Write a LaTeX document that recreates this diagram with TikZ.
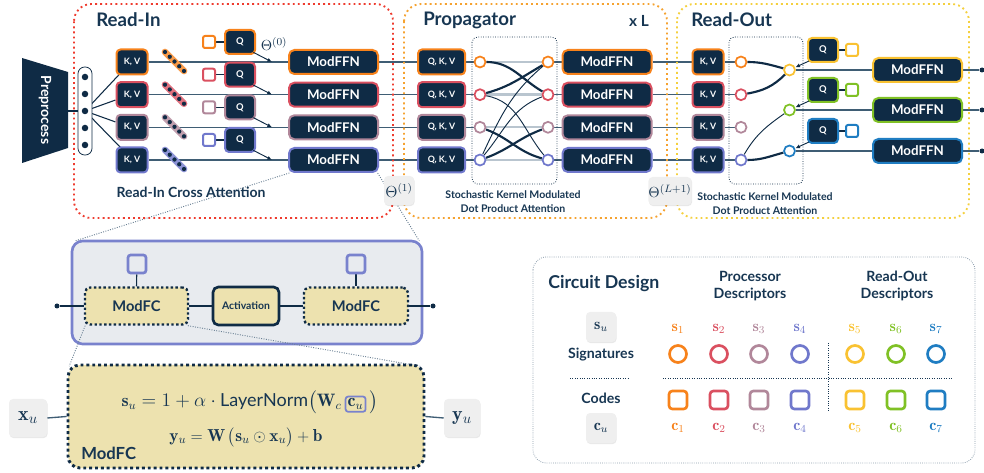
\documentclass[tikz,border=0pt]{standalone}
\usepackage{fontspec}
\usepackage{amsmath}
\usetikzlibrary{arrows.meta,shadows,calc}
\newfontfamily\lato{Lato}
\pgfdeclarelayer{bg}
\pgfsetlayers{bg,main}

\definecolor{navy}{HTML}{0F2B45}
\definecolor{ink}{HTML}{173652}
\definecolor{cOr}{HTML}{F7821B}
\definecolor{cRd}{HTML}{DA5060}
\definecolor{cMv}{HTML}{B1879A}
\definecolor{cPw}{HTML}{7078CC}
\definecolor{cYe}{HTML}{F9C232}
\definecolor{cGr}{HTML}{80C125}
\definecolor{cBl}{HTML}{1F7DC2}
\definecolor{beige}{HTML}{EDE2AF}
\definecolor{panelbg}{HTML}{E8EBEF}
\definecolor{lav}{HTML}{7982CD}
\definecolor{rowline}{HTML}{3F5D74}
\definecolor{faint}{HTML}{B9C5CF}
\definecolor{zoomc}{HTML}{6A8094}
\definecolor{rdot}{HTML}{EE3B2E}
\definecolor{odot}{HTML}{F5A230}
\definecolor{ydot}{HTML}{F4D03E}
\definecolor{chipbg}{HTML}{EFEFEF}
\definecolor{cdline}{HTML}{8A9BAB}

\tikzset{
  sz/.style 2 args={minimum width=#1*0.75pt, minimum height=#2*0.75pt, inner sep=0pt},
  darkbox/.style={draw=#1, fill=navy, line width=1.5pt, rounded corners=3pt, text=white, inner sep=0pt},
  kvbox/.style={darkbox=#1, sz={31}{25}, font=\lato\bfseries\fontsize{6.6}{7}\selectfont},
  qkvbox/.style={darkbox=#1, sz={47}{25}, font=\lato\bfseries\fontsize{6.6}{7}\selectfont},
  qbox/.style={darkbox=#1, sz={30}{24}, font=\lato\bfseries\fontsize{7}{8}\selectfont},
  ffn/.style={darkbox=#1, sz={89}{24}, rounded corners=4pt, font=\lato\bfseries\fontsize{10}{12}\selectfont},
  code/.style={draw=#1, fill=white, line width=1.5pt, rounded corners=1.5pt, sz={12}{12}},
  ring/.style={circle, draw=#1, fill=white, line width=1.3pt, minimum size=11*0.75pt, inner sep=0pt},
  bigring/.style={circle, draw=#1, line width=2pt, minimum size=17*0.75pt, inner sep=0pt},
  bigcode/.style={draw=#1, line width=2pt, rounded corners=2.5pt, sz={18}{18}},
  endpt/.style={circle, fill=navy, inner sep=0pt, minimum size=5*0.75pt},
  chip/.style={fill=chipbg, rounded corners=3pt, inner sep=0pt,
    drop shadow={opacity=0.18, shadow xshift=0.4pt, shadow yshift=-0.8pt}},
  title/.style={text=ink, font=\lato\bfseries\fontsize{14}{16}\selectfont, inner sep=0pt},
  lbl/.style={text=ink, font=\lato\bfseries\fontsize{10.5}{12}\selectfont, inner sep=0pt},
  lblsmall/.style={text=ink, font=\lato\bfseries\fontsize{7.9}{10}\selectfont, inner sep=0pt, align=center},
  cdhead/.style={text=ink, font=\lato\bfseries\fontsize{10.6}{12.5}\selectfont, inner sep=0pt, align=center},
  rowl/.style={draw=rowline, line width=1pt},
  faintl/.style={draw=faint, line width=1.8pt},
  thickc/.style={draw=navy, line width=1.6pt},
  thinc/.style={draw=navy, line width=0.7pt},
  link/.style={draw=navy, line width=0.8pt},
  arr/.style={draw=navy, line width=0.7pt, -{Latex[length=3.5pt, width=3pt]}},
  region/.style={line width=1.4pt, dash pattern=on 1.4pt off 2.4pt, rounded corners=13pt},
  attn/.style={draw=navy, line width=0.6pt, dash pattern=on 0.6pt off 1.2pt, rounded corners=4pt},
  zoomline/.style={draw=zoomc, line width=0.7pt, dash pattern=on 0.7pt off 1.1pt},
  mfbox/.style={draw=navy, fill=beige, line width=1.8pt, dash pattern=on 1.8pt off 1.8pt, rounded corners=4pt, inner sep=0pt},
}

\begin{document}
\begin{tikzpicture}[x=0.75pt,y=-0.75pt]
\useasboundingbox (0,0) rectangle (984,473);

% ---------- stage outlines ----------
\draw[region, draw=rdot] (74,4) rectangle (393,218);
\draw[region, draw=odot] (404,4) rectangle (667,218);
\draw[region, draw=ydot] (677,4) rectangle (969,218);

\node[title, anchor=west] (tin) at (96,20) {Read-In};
\node[title, anchor=west] (tpr) at (423,20) {Propagator};
\node[title, anchor=west] (tro) at (691,20) {Read-Out};
\node[title, anchor=east, font=\lato\bfseries\fontsize{11.5}{13}\selectfont] (xl) at (649,21) {x L};

% ---------- preprocessing ----------
\fill[navy] (22,58) -- (68,72) -- (68,148) -- (22,163) -- cycle;
\coordinate (preR) at (68,111);
\node[rotate=-90, text=white, font=\lato\bfseries\fontsize{10.5}{12}\selectfont] (pre) at (45,110) {Preprocess};
\node[draw=navy, line width=0.6pt, fill=white, rounded corners=5pt, sz={14}{88}] (cap) at (85,111) {};
\foreach \k/\yy in {1/77,2/94,3/111,4/128,5/145}
  \node[circle, fill=navy, inner sep=0pt, minimum size=6.5*0.75pt] (d\k) at (85,\yy) {};

% ---------- attention windows ----------
\draw[attn] (472,37) rectangle (557,184);
\draw[attn] (729,37) rectangle (803,184);

% ---------- four processor rows ----------
\foreach \i/\y/\cc in {1/62/cOr, 2/94.7/cRd, 3/127.3/cMv, 4/160/cPw} {
  \node[kvbox=\cc] (kv\i) at (132,\y) {K, V};
  \node[qbox=\cc] (q\i) at (240,\y-20) {Q};
  \node[code=\cc] (cd\i) at (209,\y-20) {};
  \node[ffn=\cc] (fi\i) at (333.5,\y) {ModFFN};
  \coordinate (hit\i) at (272,\y);
  \node[qkvbox=\cc] (qkv\i) at (441.5,\y) {Q, K, V};
  \node[ring=\cc] (pl\i) at (480,\y) {};
  \node[ring=\cc] (pr\i) at (548,\y) {};
  \node[ffn=\cc] (fp\i) at (607,\y) {ModFFN};
  \node[kvbox=\cc] (ko\i) at (708,\y) {K, V};
  \node[ring=\cc] (rl\i) at (741,\y) {};
  % token chain
  \draw[line width=5pt, line cap=round, \cc!80] (165,\y-10) -- (184,\y+9);
  \foreach \k in {0,...,4}
    \fill[navy] ($(165,\y-10)!\k/4!(184,\y+9)$) circle (1.6pt);
  \begin{pgfonlayer}{bg}
    \draw[rowl] (kv\i.east) -- (fi\i.west);
    \draw[rowl] (fi\i.east) -- (qkv\i.west);
    \draw[rowl] (qkv\i.east) -- (pl\i);
    \draw[faintl] (pl\i) -- (pr\i);
    \draw[rowl] (pr\i) -- (fp\i.west);
    \draw[rowl] (fp\i.east) -- (ko\i.west);
    \draw[rowl] (ko\i.east) -- (rl\i);
    \draw[link] (cd\i) -- (q\i);
  \end{pgfonlayer}
  \draw[arr] ([xshift=-2pt,yshift=2pt]q\i.south east) -- (hit\i);
}

% ---------- read-out rows ----------
\foreach \j/\y/\cc/\qy in {1/70/cYe/50, 2/110/cGr/90, 3/151/cBl/131} {
  \node[ring=\cc] (ro\j) at (789.5,\y) {};
  \node[qbox=\cc] (qo\j) at (823,\qy) {Q};
  \node[code=\cc] (co\j) at (852,\qy) {};
  \node[ffn=\cc] (fo\j) at (917.5,\y) {ModFFN};
  \node[endpt] (end\j) at (982,\y) {};
  \begin{pgfonlayer}{bg}
    \draw[rowl] (ro\j) -- (fo\j.west);
    \draw[rowl] (fo\j.east) -- (end\j);
    \draw[link] (co\j) -- (qo\j);
  \end{pgfonlayer}
  \draw[arr] ([xshift=1.5pt,yshift=1.5pt]qo\j.south west) -- (ro\j);
}

\begin{pgfonlayer}{bg}
  % input fan-out
  \draw[link] (preR) -- (cap.west);
  \draw[link] (d3.center) -- ([xshift=3pt,yshift=1pt]kv1.south west);
  \draw[link] (d3.center) -- ([yshift=-4pt]kv2.west);
  \draw[link] (d3.center) -- ([yshift=4pt]kv3.west);
  \draw[link] (d3.center) -- ([xshift=4pt,yshift=-1pt]kv4.north west);
  % propagator mixing
  \draw[thickc] (pl1) to[out=0,in=150] (pr2);
  \draw[thickc] (pl2) to[out=15,in=210] (pr1);
  \draw[thinc]  (pl2) to[out=-10,in=130] (pr4);
  \draw[thinc]  (pl4) to[out=50,in=200] (pr2);
  \draw[thinc]  (pl4) to[out=65,in=220] (pr1);
  \draw[thickc] (pl3) to[out=-20,in=165] (pr4);
  \draw[thickc] (pl4) to[out=20,in=200] (pr3);
  % read-out pooling
  \draw[thickc] (rl1) to[out=0,in=165] (ro1);
  \draw[thickc] (rl2) to[out=10,in=225] (ro1);
  \draw[thinc]  (rl4) to[out=60,in=215] (ro2);
  \draw[thickc] (rl4) to[out=0,in=195] (ro3);
\end{pgfonlayer}

\node[text=ink, font=\fontsize{11}{13}\selectfont] (th0) at (274,44) {$\Theta^{(0)}$};

% ---------- labels ----------
\node[lbl] (ric) at (191,192) {Read-In Cross Attention};
\node[lblsmall] (skp) at (513,201.5) {Stochastic Kernel Modulated\\Dot Product Attention};
\node[lblsmall] (sko) at (765,203.5) {Stochastic Kernel Modulated\\Dot Product Attention};

% ---------- ModFFN detail panel ----------
\begin{pgfonlayer}{bg}
  \node[draw=lav, line width=2pt, fill=panelbg, rounded corners=8pt, sz={350}{103}] (pnl) at (247,292.5) {};
\end{pgfonlayer}
\node[mfbox, sz={103}{37}, font=\lato\bfseries\fontsize{11}{13}\selectfont, text=ink] (mf1) at (136.5,306) {ModFC};
\node[draw=navy, fill=beige, line width=2pt, rounded corners=4pt, sz={66}{38}, font=\lato\bfseries\fontsize{7.8}{9}\selectfont, text=ink] (act) at (246,306) {Activation};
\node[mfbox, sz={104}{37}, font=\lato\bfseries\fontsize{11}{13}\selectfont, text=ink] (mf2) at (356,306) {ModFC};
\node[draw=lav, fill=panelbg, line width=2pt, rounded corners=2pt, sz={18}{18}] (sq1) at (137,264) {};
\node[draw=lav, fill=panelbg, line width=2pt, rounded corners=2pt, sz={18}{18}] (sq2) at (356,264) {};
\node[endpt] (pin) at (57,306) {};
\node[endpt] (pout) at (433,306) {};
\begin{pgfonlayer}{bg}
  \draw[link] (pin) -- (mf1.west);
  \draw[link] (mf1.east) -- (act.west);
  \draw[link] (act.east) -- (mf2.west);
  \draw[link] (mf2.east) -- (pout);
  \draw[link] (sq1) -- (mf1.north);
  \draw[link] (sq2) -- (mf2.north);
  \draw[zoomline] ([xshift=1pt]fi4.south west) -- ([xshift=3pt,yshift=-1pt]pnl.north west);
  \draw[zoomline] ([xshift=-1pt]fi4.south east) -- ([xshift=-3pt,yshift=-1pt]pnl.north east);
\end{pgfonlayer}

% ---------- ModFC formula ----------
\node[mfbox, line width=2.2pt, dash pattern=on 2.2pt off 2.2pt, rounded corners=9pt, sz={356}{103}] (fbox) at (246,416.5) {};
\begin{pgfonlayer}{bg}
  \draw[zoomline] ([xshift=1pt]mf1.south west) -- ([xshift=2pt,yshift=-2pt]fbox.north west);
  \draw[zoomline] ([xshift=-1pt]mf1.south east) -- ([xshift=-4pt,yshift=-2pt]fbox.north east);
\end{pgfonlayer}
\node[text=ink, font=\fontsize{13.5}{16}\selectfont] (f1) at (250,402)
  {$\mathbf{s}_u = 1 + \alpha\cdot\text{\lato LayerNorm}\big(\mathbf{W}_c\,\tikz[baseline=(cb.base)]\node[draw=lav,line width=1.3pt,rounded corners=2pt,inner sep=1.6pt](cb){$\mathbf{c}_u$};\,\big)$};
\node[text=ink, font=\fontsize{13}{16}\selectfont] (f2) at (246,437)
  {$\mathbf{y}_u = \mathbf{W}\,\big(\mathbf{s}_u \odot \mathbf{x}_u\big) + \mathbf{b}$};
\node[anchor=west, text=ink, font=\lato\bfseries\fontsize{12.5}{14}\selectfont, inner sep=0pt] (mfl) at (81,453) {ModFC};
\node[chip, sz={38}{38}, text=ink, font=\fontsize{15}{17}\selectfont] (xu) at (28,418) {$\mathbf{x}_u$};
\node[chip, sz={36}{38}, text=ink, font=\fontsize{15}{17}\selectfont] (yu) at (462,418) {$\mathbf{y}_u$};
\begin{pgfonlayer}{bg}
  \draw[rowl] (xu.east) -- (fbox.west);
  \draw[rowl] (fbox.east) -- (yu.west);
\end{pgfonlayer}

% ---------- layer parameter chips ----------
\node[chip, sz={30}{29}, text=ink, font=\fontsize{11.5}{13}\selectfont] (th1) at (399,190.5) {$\Theta^{(1)}$};
\node[chip, sz={43}{28}, text=ink, font=\fontsize{11}{13}\selectfont] (thL) at (670,191) {$\Theta^{(L+1)}$};

% ---------- circuit design legend ----------
\draw[draw=cdline, line width=0.6pt, dash pattern=on 0.6pt off 1pt, rounded corners=10pt] (533,257) rectangle (975,463);
\node[anchor=west, text=ink, font=\lato\bfseries\fontsize{13.3}{15}\selectfont, inner sep=0pt] (cdt) at (548,284) {Circuit Design};
\node[cdhead] (pdh) at (750,286) {Processor\\Descriptors};
\node[cdhead] (rdh) at (897,286) {Read-Out\\Descriptors};
\node[chip, sz={30}{30}, text=ink, font=\fontsize{12}{14}\selectfont] (suc) at (601,327) {$\mathbf{s}_u$};
\node[cdhead] (sig) at (601,355) {Signatures};
\node[cdhead] (cod) at (601,398) {Codes};
\node[chip, sz={30}{30}, text=ink, font=\fontsize{12}{14}\selectfont] (cuc) at (601,428) {$\mathbf{c}_u$};
\draw[draw=ink, line width=0.6pt, dash pattern=on 0.6pt off 1.2pt] (570,378) -- (628,378);
\draw[draw=ink, line width=0.6pt, dash pattern=on 0.6pt off 1.2pt] (663,378) -- (952,378);
\draw[draw=ink, line width=0.6pt, dash pattern=on 0.6pt off 1.2pt] (828,343) -- (828,411);
\foreach \k/\x/\cc in {1/678/cOr,2/719/cRd,3/759/cMv,4/800/cPw,5/855/cYe,6/896/cGr,7/936/cBl} {
  \node[text=\cc, font=\fontsize{12}{14}\selectfont] (sl\k) at (\x,329) {$\mathbf{s}_{\k}$};
  \node[bigring=\cc] (sr\k) at (\x,354) {};
  \node[bigcode=\cc] (sc\k) at (\x,400) {};
  \node[text=\cc, font=\fontsize{12}{14}\selectfont] (cl\k) at (\x,428) {$\mathbf{c}_{\k}$};
}
\end{tikzpicture}
\end{document}
